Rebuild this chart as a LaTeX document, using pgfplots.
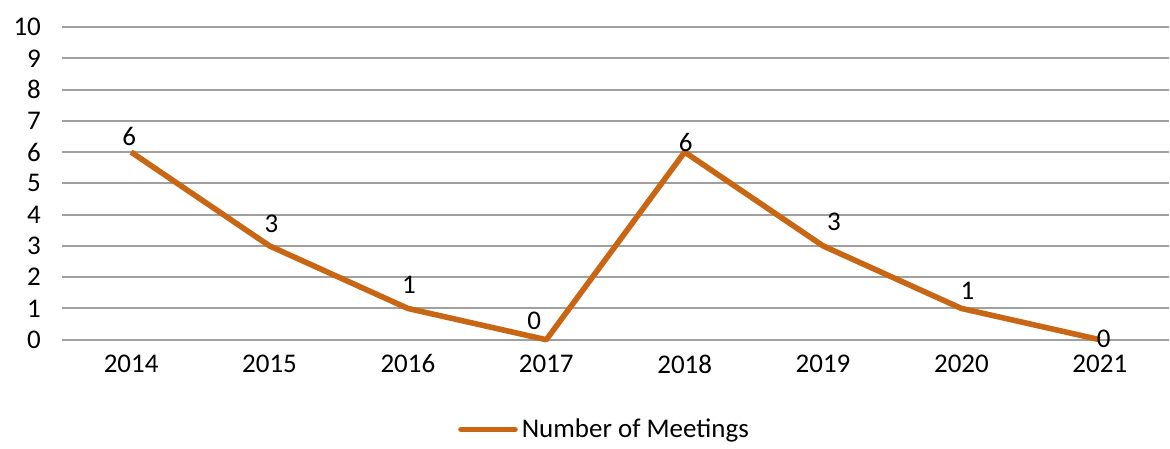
\documentclass[border=0pt]{standalone}
\usepackage{fontspec}
\setmainfont{Carlito}
\usepackage{pgfplots}
\pgfplotsset{compat=1.18}

\definecolor{lineorange}{RGB}{200,102,20}
\definecolor{gridgray}{RGB}{160,160,160}

% year index, meetings, label shifts (pt)
\pgfplotstableread{
x y dx dy
0 6 -1 1
1 3 1 4
2 1 0.5 5
3 0 -6 2.5
4 6 0.5 -2
5 3 5.5 5
6 1 3 2
7 0 2 -6.5
}\meetings

\begin{document}
\begin{tikzpicture}
\begin{axis}[
    at={(0,0)}, anchor=south west,
    scale only axis,
    width=554pt, height=156.5pt,
    xmin=-0.5, xmax=7.5,
    ymin=0, ymax=10,
    xtick={0,...,7},
    xticklabels={2014,2015,2016,2017,2018,2019,2020,2021},
    ytick={0,...,10},
    axis line style={draw=none},
    tick style={draw=none},
    ymajorgrids,
    grid style={gridgray, line width=1pt},
    /pgf/number format/assume math mode=true,
    tick label style={font=\fontsize{13.5}{16}\selectfont, text=black},
    y tick label style={xshift=-7pt},
    x tick label style={yshift=-4pt},
    legend style={at={(axis description cs:0.491,0)}, anchor=center,
        yshift=-45pt, draw=none, fill=none,
        font=\fontsize{13.5}{16}\selectfont},
    legend image code/.code={\draw[#1, line cap=round] (0pt,0pt) -- (27pt,0pt);},
    clip=false,
]
\addplot[lineorange, line width=2.8pt, line join=round,
    nodes near coords, point meta=explicit,
    visualization depends on={\thisrow{dx} \as \dx},
    visualization depends on={\thisrow{dy} \as \dy},
    every node near coord/.append style={font=\fontsize{13.5}{16}\selectfont,
        text=black, xshift=\dx pt, yshift=\dy pt, inner sep=1pt}]
    table[x=x, y=y, meta=y] {\meetings};
\addlegendentry{Number of Meetings}
\end{axis}
\path[use as bounding box] (-31pt,-51pt) rectangle (554pt,170pt);
\end{tikzpicture}
\end{document}
